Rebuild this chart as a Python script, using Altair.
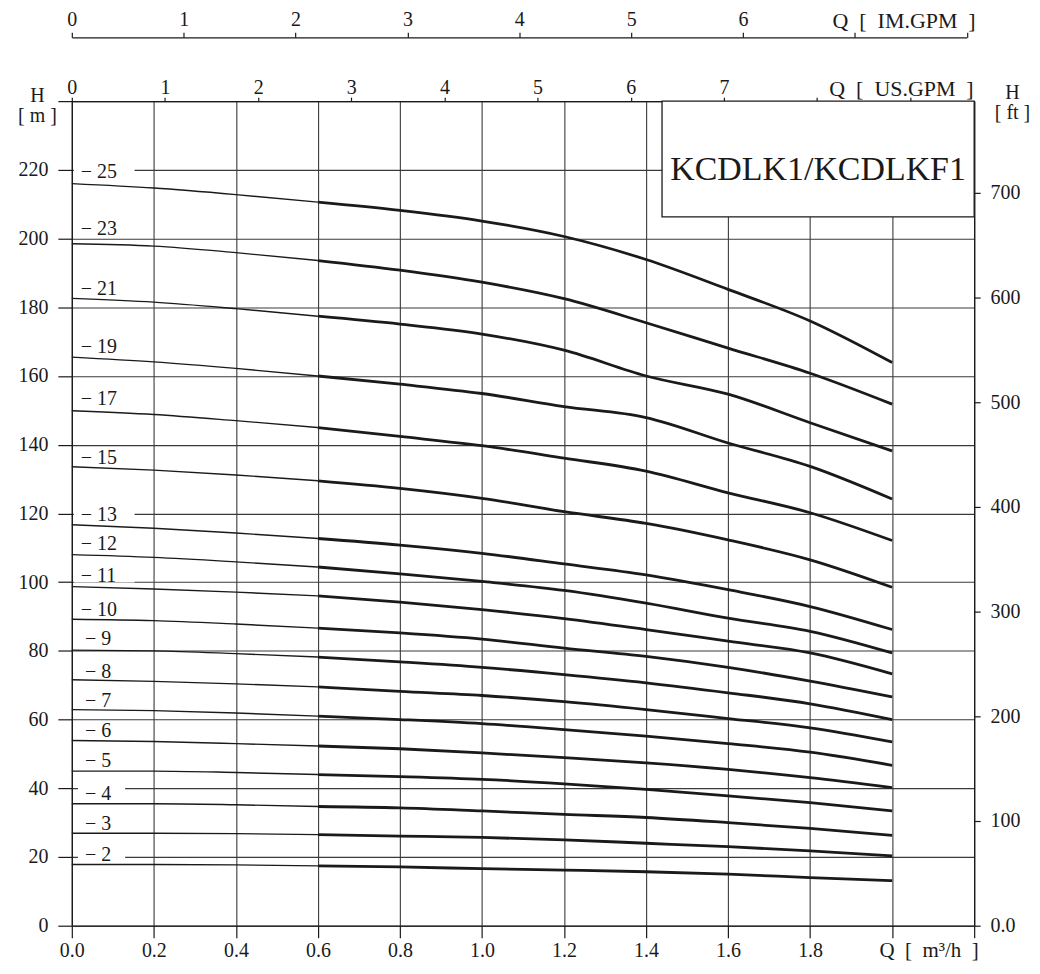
import altair as alt
import pandas as pd

# ---------------- data ----------------
Q = [0.0, 0.2, 0.4, 0.6, 0.8, 1.0, 1.2, 1.4, 1.6, 1.8, 2.0]
stages = [25, 23, 21, 19, 17, 15, 13, 12, 11, 10, 9, 8, 7, 6, 5, 4, 3, 2]
H25 = [216.0, 214.7, 212.8, 210.6, 208.2, 205.1, 200.6, 193.9, 185.2, 176.0, 163.9]
H23 = [198.5, 197.8, 195.9, 193.6, 190.8, 187.3, 182.5, 175.5, 168.1, 160.8, 151.8]
H21 = [182.6, 181.5, 179.6, 177.4, 175.1, 172.2, 167.5, 160.0, 154.7, 146.4, 138.2]
H19 = [165.5, 164.1, 162.2, 160.0, 157.6, 154.9, 151.1, 147.9, 140.5, 133.7, 124.2]
H17 = [149.9, 148.8, 147.0, 145.0, 142.4, 139.7, 136.1, 132.3, 126.0, 120.2, 112.1]
H15 = [133.6, 132.6, 131.2, 129.5, 127.3, 124.4, 120.5, 117.1, 112.3, 106.5, 98.5]
H13 = [116.7, 115.7, 114.3, 112.7, 110.8, 108.4, 105.3, 102.1, 97.8, 92.9, 86.2]
H12 = [108.0, 107.2, 105.9, 104.4, 102.4, 100.2, 97.6, 93.9, 89.5, 85.7, 79.4]
H11 = [98.7, 98.0, 97.1, 96.0, 94.2, 92.0, 89.4, 86.2, 82.8, 79.4, 73.3]
H10 = [89.2, 88.8, 87.8, 86.6, 85.2, 83.4, 80.8, 78.4, 75.2, 71.2, 66.6]
H9 = [80.2, 80.0, 79.2, 78.2, 76.8, 75.2, 73.1, 70.7, 67.8, 64.6, 60.0]
H8 = [71.6, 71.1, 70.4, 69.5, 68.2, 67.0, 65.2, 62.9, 60.3, 57.6, 53.5]
H7 = [62.9, 62.6, 61.9, 61.0, 60.0, 58.8, 57.1, 55.2, 53.0, 50.5, 46.7]
H6 = [53.9, 53.6, 53.0, 52.3, 51.5, 50.3, 48.9, 47.4, 45.5, 43.1, 40.2]
H5 = [45.0, 45.0, 44.6, 44.0, 43.4, 42.6, 41.3, 39.7, 37.8, 35.8, 33.4]
H4 = [35.5, 35.5, 35.2, 34.7, 34.3, 33.4, 32.4, 31.5, 30.0, 28.3, 26.3]
H3 = [26.9, 26.9, 26.8, 26.5, 26.1, 25.7, 25.0, 24.0, 23.0, 21.8, 20.3]
H2 = [17.8, 17.8, 17.7, 17.4, 17.1, 16.6, 16.2, 15.7, 15.0, 14.0, 13.1]
heads = [H25, H23, H21, H19, H17, H15, H13, H12, H11, H10, H9, H8, H7, H6, H5, H4, H3, H2]
label_h = [219.3, 202.8, 185.4, 168.5, 153.2, 136.2, 119.6, 111.0, 101.7, 92.0,
           83.4, 73.9, 65.3, 56.6, 48.0, 38.4, 29.6, 20.7]
model_title = "KCDLK1/KCDLKF1"

# axis tick values
q_ticks = [round(i * 0.2, 1) for i in range(12)]
h_ticks = list(range(0, 241, 20))
us_ticks = list(range(0, 10))
im_ticks = list(range(0, 9))
ft_ticks = list(range(0, 701, 100))

# unit conversions
US_GPM = 0.2271247   # m3/h per US gpm
IM_GPM = 0.2727654   # m3/h per imperial gpm
FT = 0.3048          # m per ft
Q_MAX, H_MAX = 2.2, 240
OPER_START = 0.6     # start of bold (operating) part

# ---------------- style ----------------
FONT = "Liberation Serif"
INK = "#1a1a1a"
GRID = "#3a3a3a"
W, HGT = 905, 827
SP = "\u2002"

rows = []
for s, hs in zip(stages, heads):
    for q, h in zip(Q, hs):
        rows.append({"stage": s, "q": q, "h": h})
curves = pd.DataFrame(rows)
thin = curves[curves.q <= OPER_START + 1e-9]
thick = curves[curves.q >= OPER_START - 1e-9]

labels = pd.DataFrame({
    "stage": stages,
    "txt": [f"\u2212 {s}" for s in stages],
    "h": label_h,
    "q": [0.022 if s >= 10 else 0.032 for s in stages],
    "g1": [0.005 if s >= 10 else 0.015 for s in stages],
    "g2": [0.153 if s >= 10 else 0.130 for s in stages],
})
labels["hl"] = labels["h"] - 1.8
labels["hh"] = labels["h"] + 1.8

box = pd.DataFrame({"q": [1.439], "q2": [Q_MAX], "h": [206.3], "h2": [H_MAX],
                    "tq": [(1.439 + Q_MAX) / 2], "th": [217.0], "txt": [model_title]})

x_axis = alt.Axis(values=q_ticks, labelExpr="datum.value <= 1.85 ? format(datum.value, '.1f') : ''",
                  tickSize=12, labelPadding=3, grid=True, gridColor=GRID, gridWidth=1.1,
                  title=f"Q{SP}[{SP}m\u00b3/h{SP}]", titleAngle=0, titleAlign="right",
                  titleBaseline="alphabetic", titleX=W + 4, titleY=31, titleFontSize=21,
                  titleFontWeight="normal", labelFlush=False, labelOverlap=False)
y_axis = alt.Axis(values=h_ticks, labelExpr="datum.value < 230 ? datum.label : ''",
                  tickSize=14, labelPadding=10, grid=True, gridColor=GRID, gridWidth=1.1,
                  title=["H", "[ m ]"], titleAngle=0, titleAlign="center", titleBaseline="alphabetic",
                  titleX=-35, titleY=0, titleLineHeight=20, titleFontSize=20, titleFontWeight="normal",
                  labelFlush=False, labelOverlap=False)
xs = alt.Scale(domain=[0, Q_MAX], nice=False, zero=False)
ys = alt.Scale(domain=[0, H_MAX], nice=False, zero=False)


def X(f):
    return alt.X(f, type="quantitative", scale=xs, axis=x_axis)


def Y(f):
    return alt.Y(f, type="quantitative", scale=ys, axis=y_axis)


gaps = alt.Chart(labels).mark_rect(fill="white", stroke=None).encode(
    x=X("g1"), x2="g2", y=Y("hl"), y2="hh")

boxr = alt.Chart(box).mark_rect(fill="white", stroke=INK, strokeWidth=1.3).encode(
    x=X("q"), x2="q2", y=Y("h"), y2="h2")

thin_l = alt.Chart(thin).mark_line(color=INK, strokeWidth=1.4, interpolate="monotone").encode(
    x=X("q"), y=Y("h"), detail="stage:N")
thick_l = alt.Chart(thick).mark_line(color=INK, strokeWidth=2.8, interpolate="monotone").encode(
    x=X("q"), y=Y("h"), detail="stage:N")

lab = alt.Chart(labels).mark_text(font=FONT, fontSize=20, align="left", baseline="middle",
                                  color=INK).encode(x=X("q"), y=Y("h"), text="txt")

title_t = alt.Chart(box).mark_text(font=FONT, fontSize=34, align="center", baseline="alphabetic",
                                   color=INK).encode(x=X("tq"), y=Y("th"), text="txt")

inner = alt.layer(gaps, boxr, thin_l, thick_l, lab, title_t)

us = alt.Chart(pd.DataFrame({"us": us_ticks})).mark_point(opacity=0).encode(
    x=alt.X("us:Q", scale=alt.Scale(domain=[0, Q_MAX / US_GPM], nice=False, zero=False),
            axis=alt.Axis(orient="top", values=us_ticks, grid=False, tickSize=4, labelPadding=0,
                          labelExpr="datum.value <= 7 ? datum.label : ''",
                          title=f"Q{SP}[{SP}US.GPM{SP}]", titleAngle=0, titleAlign="right",
                          titleBaseline="alphabetic", titleX=W - 1, titleY=-6,
                          titleFontSize=22, titleFontWeight="normal",
                          labelFlush=False, labelOverlap=False)))

im_range_end = W * (im_ticks[-1] * IM_GPM) / Q_MAX
im = alt.Chart(pd.DataFrame({"im": im_ticks})).mark_point(opacity=0).encode(
    x=alt.X("im:Q", scale=alt.Scale(domain=[0, im_ticks[-1]], range=[0, im_range_end], nice=False, zero=False),
            axis=alt.Axis(orient="top", offset=64, values=im_ticks, grid=False, tickSize=5, labelPadding=3,
                          labelExpr="datum.value <= 6 ? datum.label : ''",
                          title=f"Q{SP}[{SP}IM.GPM{SP}]", titleAngle=0, titleAlign="right",
                          titleBaseline="alphabetic", titleX=W + 1, titleY=-10,
                          titleFontSize=22, titleFontWeight="normal",
                          labelFlush=False, labelOverlap=False)))

ft = alt.Chart(pd.DataFrame({"ft": ft_ticks})).mark_point(opacity=0).encode(
    y=alt.Y("ft:Q", scale=alt.Scale(domain=[0, H_MAX / FT], nice=False, zero=False),
            axis=alt.Axis(orient="right", values=ft_ticks, grid=False, tickSize=6, labelPadding=10,
                          labelExpr="datum.value == 0 ? '0.0' : datum.label",
                          title=["H", "[ ft ]"], titleAngle=0, titleAlign="center",
                          titleBaseline="alphabetic", titleX=38, titleY=-3, titleLineHeight=20,
                          titleFontSize=20, titleFontWeight="normal",
                          labelFlush=False, labelOverlap=False)))

chart = alt.layer(inner, us, im, ft).resolve_scale(x="independent", y="independent").properties(
    width=W, height=HGT,
    autosize=alt.AutoSizeParams(type="none"),
    padding={"left": 64, "top": 92, "right": 58, "bottom": 35},
).configure_view(stroke=None).configure_axis(
    labelFont=FONT, labelFontSize=20, labelColor=INK,
    titleFont=FONT, titleColor=INK,
    domainColor=INK, domainWidth=1.3, tickColor=INK, tickWidth=1.2,
)

chart.save("out.html", embed_options={"renderer": "svg", "actions": False})
